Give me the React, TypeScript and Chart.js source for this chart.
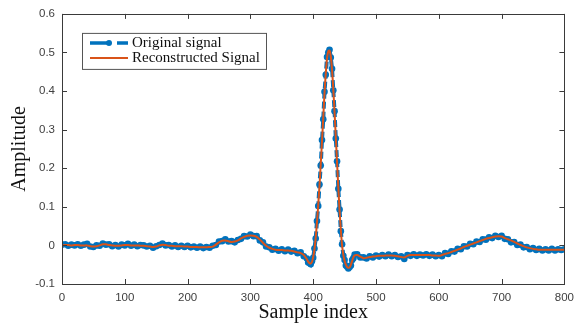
import React, { useEffect, useRef } from "react";
import { Chart, registerables } from "chart.js";

Chart.register(...registerables);

const sampleIndex = [
  0, 5, 10, 15, 20, 25, 30, 35, 40, 45, 50, 55, 60, 65, 70, 75, 80, 85, 90, 95,
  100, 105, 110, 115, 120, 125, 130, 135, 140, 145, 150, 155, 160, 165, 170, 175, 180, 185, 190, 195,
  200, 205, 210, 215, 220, 225, 230, 235, 240, 245, 250, 255, 260, 265, 270, 275, 280, 285, 290, 295,
  300, 305, 310, 315, 320, 325, 330, 335, 340, 345, 350, 355, 360, 365, 370, 375, 380, 385, 390,
  392, 394, 396, 398, 400, 402, 404, 406, 408, 410, 412, 414, 416, 418, 420, 422, 424, 426, 428, 430,
  432, 434, 436, 438, 440, 442, 444, 446, 448, 450, 452, 454, 456, 458, 460, 462, 464, 466,
  470, 475, 480, 485, 490, 495, 500, 505, 510, 515, 520, 525, 530, 535, 540, 545, 550, 555, 560, 565,
  570, 575, 580, 585, 590, 595, 600, 605, 610, 615, 620, 625, 630, 635, 640, 645, 650, 655, 660, 665,
  670, 675, 680, 685, 690, 695, 700, 705, 710, 715, 720, 725, 730, 735, 740, 745, 750, 755, 760, 765,
  770, 775, 780, 785, 790, 795, 800,
];

const originalSignal = [
  0.002, 0.003, -0.001, 0.002, 0.0, 0.003, -0.001, 0.002, 0.004, -0.003, -0.004, 0.0, -0.001, 0.005, 0.002, 0.003, -0.002, 0.001, -0.003, 0.002,
  0.0, 0.004, -0.001, 0.002, -0.002, 0.001, 0.0, -0.003, -0.001, -0.006, -0.002, 0.001, 0.005, 0.0, 0.001, -0.003, 0.0, -0.004, -0.001, -0.004,
  -0.001, -0.005, -0.003, -0.006, -0.003, -0.007, -0.004, -0.006, -0.001, 0.001, 0.01, 0.011, 0.016, 0.01, 0.011, 0.008, 0.014, 0.017, 0.024, 0.023,
  0.028, 0.024, 0.024, 0.013, 0.008, -0.003, -0.005, -0.011, -0.009, -0.014, -0.01, -0.015, -0.011, -0.016, -0.014, -0.02, -0.018, -0.028, -0.034,
  -0.044, -0.045, -0.049, -0.041, -0.032, -0.008, 0.018, 0.063, 0.102, 0.158, 0.207, 0.273, 0.327, 0.398, 0.442, 0.488, 0.5, 0.507, 0.487, 0.458,
  0.402, 0.348, 0.277, 0.218, 0.147, 0.093, 0.037, 0.003, -0.027, -0.038, -0.052, -0.055, -0.06, -0.056, -0.052, -0.038, -0.033, -0.024,
  -0.023, -0.031, -0.031, -0.034, -0.028, -0.031, -0.026, -0.029, -0.025, -0.028, -0.024, -0.028, -0.025, -0.03, -0.028, -0.035, -0.025, -0.027, -0.023, -0.027,
  -0.024, -0.026, -0.023, -0.027, -0.024, -0.028, -0.025, -0.028, -0.02, -0.022, -0.015, -0.016, -0.009, -0.01, -0.002, -0.003, 0.004, 0.003, 0.01, 0.009,
  0.016, 0.015, 0.021, 0.019, 0.025, 0.022, 0.025, 0.017, 0.016, 0.008, 0.009, 0.001, 0.002, -0.005, -0.004, -0.01, -0.007, -0.012, -0.009, -0.013,
  -0.01, -0.013, -0.009, -0.013, -0.01, -0.012, -0.01,
];

const reconstructedSignal = [
  0.0, 0.001, 0.001, 0.0, 0.001, 0.001, 0.0, 0.0, 0.0, -0.002, -0.003, -0.002, 0.0, 0.003, 0.003, 0.001, 0.0, -0.001, -0.001, 0.0,
  0.001, 0.001, 0.0, 0.0, 0.0, -0.001, -0.001, -0.002, -0.003, -0.004, -0.003, 0.0, 0.002, 0.001, -0.001, -0.001, -0.002, -0.002, -0.002, -0.003,
  -0.003, -0.004, -0.004, -0.004, -0.005, -0.005, -0.005, -0.004, -0.003, 0.002, 0.008, 0.012, 0.013, 0.011, 0.009, 0.01, 0.013, 0.018, 0.022, 0.025,
  0.026, 0.025, 0.022, 0.015, 0.007, -0.001, -0.006, -0.009, -0.011, -0.012, -0.012, -0.013, -0.013, -0.014, -0.016, -0.018, -0.02, -0.025, -0.036,
  -0.042, -0.046, -0.047, -0.043, -0.03, -0.01, 0.02, 0.06, 0.105, 0.155, 0.21, 0.27, 0.33, 0.395, 0.445, 0.485, 0.503, 0.505, 0.49, 0.455,
  0.405, 0.345, 0.28, 0.215, 0.15, 0.09, 0.04, 0.0, -0.025, -0.04, -0.05, -0.056, -0.058, -0.057, -0.05, -0.04, -0.031, -0.026,
  -0.025, -0.029, -0.033, -0.032, -0.03, -0.029, -0.028, -0.027, -0.027, -0.026, -0.026, -0.026, -0.027, -0.028, -0.03, -0.031, -0.027, -0.025, -0.025, -0.025,
  -0.025, -0.025, -0.025, -0.025, -0.026, -0.026, -0.027, -0.025, -0.022, -0.02, -0.017, -0.014, -0.011, -0.008, -0.004, -0.001, 0.002, 0.005, 0.008, 0.011,
  0.014, 0.017, 0.019, 0.021, 0.023, 0.024, 0.023, 0.019, 0.016, 0.013, 0.009, 0.005, 0.001, -0.002, -0.005, -0.007, -0.009, -0.01, -0.011, -0.011,
  -0.011, -0.011, -0.011, -0.011, -0.011, -0.011, -0.011,
];

const xTicks = [0, 100, 200, 300, 400, 500, 600, 700, 800];
const yTicks = [-0.1, 0, 0.1, 0.2, 0.3, 0.4, 0.5, 0.6];
const seriesNames = ["Original signal", "Reconstructed Signal"];

const BLUE = "#0072BD";
const ORANGE = "#D95319";
const AXIS = "#3a3a3a";

const framePlugin = {
  id: "frameAndLegend",
  afterDraw(chart: any) {
    const { ctx, chartArea } = chart;
    const { left, right, top, bottom } = chartArea;
    const xs = chart.scales.x;
    const ys = chart.scales.y;
    ctx.save();
    ctx.strokeStyle = AXIS;
    ctx.lineWidth = 1;
    ctx.strokeRect(Math.round(left) + 0.5, Math.round(top) + 0.5, Math.round(right - left), Math.round(bottom - top));
    const tl = 5;
    ctx.beginPath();
    for (const v of xTicks) {
      const px = Math.round(xs.getPixelForValue(v)) + 0.5;
      ctx.moveTo(px, bottom);
      ctx.lineTo(px, bottom - tl);
      ctx.moveTo(px, top);
      ctx.lineTo(px, top + tl);
    }
    for (const v of yTicks) {
      const py = Math.round(ys.getPixelForValue(v)) + 0.5;
      ctx.moveTo(left, py);
      ctx.lineTo(left + tl, py);
      ctx.moveTo(right, py);
      ctx.lineTo(right - tl, py);
    }
    ctx.stroke();

    // legend box
    const lx = left + 20;
    const ly = top + 19;
    const lw = 184;
    const lh = 36;
    ctx.fillStyle = "#ffffff";
    ctx.fillRect(lx, ly, lw, lh);
    ctx.strokeStyle = "#555555";
    ctx.strokeRect(lx + 0.5, ly + 0.5, lw, lh);
    const y1 = ly + 10;
    const y2 = ly + 25;
    const sx = lx + 8;
    ctx.strokeStyle = BLUE;
    ctx.lineWidth = 3.5;
    ctx.beginPath();
    ctx.moveTo(sx, y1);
    ctx.lineTo(sx + 17, y1);
    ctx.moveTo(sx + 27, y1);
    ctx.lineTo(sx + 38, y1);
    ctx.stroke();
    ctx.fillStyle = BLUE;
    ctx.beginPath();
    ctx.arc(sx + 19, y1, 3, 0, Math.PI * 2);
    ctx.fill();
    ctx.strokeStyle = ORANGE;
    ctx.lineWidth = 2;
    ctx.beginPath();
    ctx.moveTo(sx, y2);
    ctx.lineTo(sx + 38, y2);
    ctx.stroke();
    ctx.fillStyle = "#111111";
    ctx.font = '15px "Liberation Serif", "Times New Roman", serif';
    ctx.textBaseline = "middle";
    ctx.textAlign = "left";
    ctx.fillText(seriesNames[0], sx + 42, y1 + 0.5);
    ctx.fillText(seriesNames[1], sx + 42, y2 + 0.5);
    ctx.restore();
  },
};

export default function App() {
  const ref = useRef<HTMLCanvasElement | null>(null);
  useEffect(() => {
    document.body.style.margin = "0";
    const canvas = ref.current!;
    const chart = new Chart(canvas, {
      type: "line",
      data: {
        datasets: [
          {
            label: seriesNames[1],
            data: sampleIndex.map((x, i) => ({ x, y: reconstructedSignal[i] })),
            borderColor: ORANGE,
            borderWidth: 2,
            pointRadius: 0,
            tension: 0.3,
            order: 0,
          },
          {
            label: seriesNames[0],
            data: sampleIndex.map((x, i) => ({ x, y: originalSignal[i] })),
            borderColor: BLUE,
            backgroundColor: BLUE,
            borderWidth: 4,
            borderDash: [7, 3],
            pointRadius: 3.3,
            pointBorderWidth: 0,
            pointBackgroundColor: BLUE,
            order: 1,
          },
        ],
      },
      options: {
        animation: false,
        responsive: false,
        devicePixelRatio: 1,
        layout: { padding: { left: 0, right: 13, top: 13, bottom: 0 } },
        plugins: { legend: { display: false }, tooltip: { enabled: false } },
        scales: {
          x: {
            type: "linear",
            min: 0,
            max: 800,
            grid: { display: false, drawTicks: false },
            border: { display: false },
            afterBuildTicks: (s: any) => {
              s.ticks = xTicks.map((v) => ({ value: v }));
            },
            afterFit: (s: any) => {
              s.height = 39;
            },
            ticks: {
              padding: 7,
              color: "#404040",
              font: { family: '"Liberation Sans", Arial, sans-serif', size: 11.5 },
            },
            title: {
              display: true,
              text: "Sample index",
              color: "#111111",
              padding: { top: 0, bottom: -2 },
              font: { family: '"Liberation Serif", "Times New Roman", serif', size: 20 },
            },
          },
          y: {
            type: "linear",
            min: -0.1,
            max: 0.6,
            grid: { display: false, drawTicks: false },
            border: { display: false },
            afterBuildTicks: (s: any) => {
              s.ticks = yTicks.map((v) => ({ value: v }));
            },
            afterFit: (s: any) => {
              s.width = 62;
            },
            ticks: {
              padding: 7,
              color: "#404040",
              font: { family: '"Liberation Sans", Arial, sans-serif', size: 11.5 },
              callback: (v: any) => String(Math.round(Number(v) * 10) / 10),
            },
            title: {
              display: true,
              text: "Amplitude",
              color: "#111111",
              padding: { top: 8, bottom: 0 },
              font: { family: '"Liberation Serif", "Times New Roman", serif', size: 20 },
            },
          },
        },
      },
      plugins: [framePlugin],
    });
    return () => chart.destroy();
  }, []);
  return (
    <div style={{ position: "absolute", left: 0, top: 0, width: 581, height: 323 }}>
      <canvas ref={ref} width={581} height={323} />
    </div>
  );
}
